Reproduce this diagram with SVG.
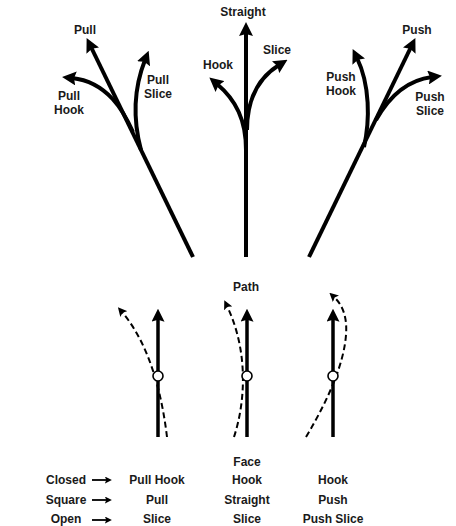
<svg xmlns="http://www.w3.org/2000/svg" width="456" height="526" viewBox="0 0 456 526">
<style>
  text { font-family: "Liberation Sans", Arial, sans-serif; font-weight: 700; font-size: 12px; fill: #1a1a1a; text-anchor: middle; }
  .shot { fill: none; stroke: #000; stroke-width: 4; marker-end: url(#big); }
  .face { fill: none; stroke: #000; stroke-width: 3.5; marker-end: url(#mid); }
  .path { fill: none; stroke: #000; stroke-width: 2; stroke-dasharray: 6 3.5; marker-end: url(#small); }
  .tab { fill: none; stroke: #000; stroke-width: 1.8; marker-end: url(#tiny); }
  .ball { fill: #fff; stroke: #000; stroke-width: 1.6; }
</style>
<defs>
  <marker id="big" markerUnits="userSpaceOnUse" viewBox="0 0 14 14" markerWidth="14" markerHeight="14" refX="4" refY="7" orient="auto">
    <path d="M0,0 L14,7 L0,14 L2,7 z" fill="#000"/>
  </marker>
  <marker id="mid" markerUnits="userSpaceOnUse" viewBox="0 0 14 14" markerWidth="13" markerHeight="13" refX="4" refY="7" orient="auto">
    <path d="M0,0 L14,7 L0,14 L2,7 z" fill="#000"/>
  </marker>
  <marker id="small" markerUnits="userSpaceOnUse" viewBox="0 0 10 10" markerWidth="9" markerHeight="9" refX="3" refY="5" orient="auto">
    <path d="M0,0 L10,5 L0,10 L2,5 z" fill="#000"/>
  </marker>
  <marker id="tiny" markerUnits="userSpaceOnUse" viewBox="0 0 10 10" markerWidth="7" markerHeight="7" refX="3" refY="5" orient="auto">
    <path d="M0,0 L10,5 L0,10 L2,5 z" fill="#000"/>
  </marker>
</defs>

<g id="connectors">
  <!-- Pull group -->
  <path class="shot" d="M193,257 L91,47"/>
  <path class="shot" d="M133,132 C124,112 108,82 72,78"/>
  <path class="shot" d="M141,150 C133,120 134,88 145,60"/>
  <!-- Straight group -->
  <path class="shot" d="M246,257 L246,32"/>
  <path class="shot" d="M246,150 C246,120 236,100 217,84"/>
  <path class="shot" d="M247,130 C247,100 258,78 279,65"/>
  <!-- Push group -->
  <path class="shot" d="M309,257 L411,47"/>
  <path class="shot" d="M364,147 C370,120 370,85 357,58"/>
  <path class="shot" d="M376,120 C390,95 408,80 432,77"/>

  <!-- Face / path lines -->
  <path class="face" d="M158,437 L158,318"/>
  <path class="face" d="M247,437 L247,318"/>
  <path class="face" d="M333,437 L333,318"/>
  <path class="path" d="M167,437 C162,395 150,345 122,312"/>
  <path class="path" d="M234,437 C246,400 248,350 227,306"/>
  <path class="path" d="M306,437 Q343,375 346,335 Q348,310 334,297"/>

  <!-- table arrows -->
  <path class="tab" d="M92,480 L107,480"/>
  <path class="tab" d="M92,500 L107,500"/>
  <path class="tab" d="M92,520 L107,520"/>
</g>

<g id="ball-left"><circle class="ball" cx="158" cy="376" r="5"/></g>
<g id="ball-mid"><circle class="ball" cx="247" cy="376" r="5"/></g>
<g id="ball-right"><circle class="ball" cx="333" cy="376" r="5"/></g>

<g id="label-pull"><text x="85" y="34">Pull</text></g>
<g id="label-pull-hook"><text x="69" y="100">Pull</text><text x="69" y="114">Hook</text></g>
<g id="label-pull-slice"><text x="158" y="83.5">Pull</text><text x="158" y="97.5">Slice</text></g>
<g id="label-straight"><text x="243" y="15.5">Straight</text></g>
<g id="label-hook"><text x="218" y="68.5">Hook</text></g>
<g id="label-slice"><text x="277" y="53.5">Slice</text></g>
<g id="label-push"><text x="417" y="33.5">Push</text></g>
<g id="label-push-hook"><text x="341" y="81">Push</text><text x="341" y="95">Hook</text></g>
<g id="label-push-slice"><text x="430" y="100.5">Push</text><text x="430" y="114.5">Slice</text></g>
<g id="label-path"><text x="246" y="290.5">Path</text></g>

<g id="table">
  <text x="247" y="466">Face</text>
  <text x="66" y="484">Closed</text>
  <text x="66" y="504">Square</text>
  <text x="66" y="523">Open</text>
  <text x="157" y="484">Pull Hook</text>
  <text x="157" y="504">Pull</text>
  <text x="157" y="523">Slice</text>
  <text x="247" y="484">Hook</text>
  <text x="247" y="504">Straight</text>
  <text x="247" y="523">Slice</text>
  <text x="333" y="484">Hook</text>
  <text x="333" y="504">Push</text>
  <text x="333" y="523">Push Slice</text>
</g>
</svg>
